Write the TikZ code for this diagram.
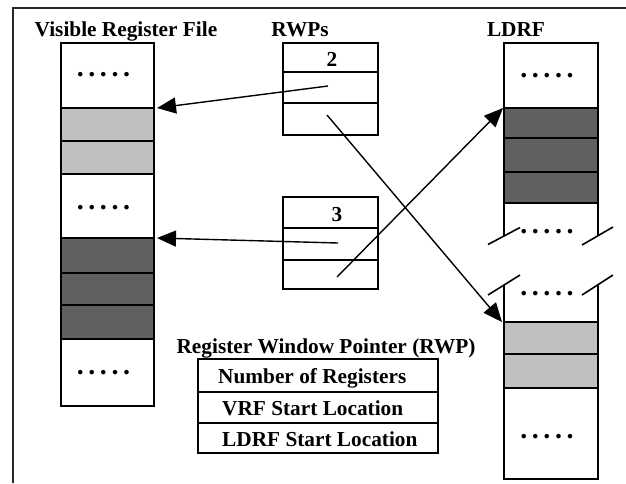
\documentclass[tikz,border=0pt]{standalone}
\usepackage{fontspec}
\setmainfont{Liberation Serif}
\usetikzlibrary{arrows.meta,calc}
\definecolor{lightcell}{RGB}{192,192,192}
\definecolor{darkcell}{RGB}{96,96,96}
\definecolor{framecol}{RGB}{40,40,40}
\newcommand\fivedots{.\kern4.6pt.\kern4.6pt.\kern4.6pt.\kern4.6pt.}
\tikzset{
  cell/.style={draw, line width=2.2pt, rectangle, inner sep=0pt, outer sep=0pt, anchor=north west},
  vcell/.style={cell, minimum width=93pt},
  lcell/.style={cell, minimum width=94pt},
  rcell/.style={cell, minimum width=95pt},
  gcell/.style={cell, minimum width=240pt},
  ghost/.style={rectangle, inner sep=0pt, outer sep=0pt, anchor=north west, minimum width=94pt},
  lbl/.style={font=\fontsize{21.3}{25}\selectfont\bfseries, inner sep=0pt},
  dotsnode/.style={font=\fontsize{28}{30}\selectfont\bfseries, inner sep=0pt},
  arr/.style={line width=1.4pt, -{Triangle[length=19pt,width=16pt]}},
  brk/.style={line width=1.6pt},
  colline/.style={line width=2.2pt},
  frame/.style={line width=2pt, draw=framecol}
}
\begin{document}
\begin{tikzpicture}[x=1pt,y=-1pt]
\useasboundingbox (0,0) rectangle (626,483);
\draw[frame] (13,483) -- (13,8) -- (626,8);

% titles
\node[lbl, anchor=base] (tv) at (126,36) {Visible Register File};
\node[lbl, anchor=base] (tr) at (300,36) {RWPs};
\node[lbl, anchor=base] (tl) at (516,36) {LDRF};

% Visible register file
\node[vcell, minimum height=65pt] (v1) at (61,43) {};
\node[vcell, fill=lightcell, minimum height=33pt] (v2) at (61,108) {};
\node[vcell, fill=lightcell, minimum height=33pt] (v3) at (61,141) {};
\node[vcell, minimum height=64pt] (v4) at (61,174) {};
\node[vcell, fill=darkcell, minimum height=35pt] (v5) at (61,238) {};
\node[vcell, fill=darkcell, minimum height=32pt] (v6) at (61,273) {};
\node[vcell, fill=darkcell, minimum height=34pt] (v7) at (61,305) {};
\node[vcell, minimum height=67pt] (v8) at (61,339) {};
\node[dotsnode] (vd1) at ($(v1.center)+(-4,-1)$) {\fivedots};
\node[dotsnode] (vd2) at ($(v4.center)+(-4,2)$) {\fivedots};
\node[dotsnode] (vd3) at ($(v8.center)+(-4,0)$) {\fivedots};

% RWP boxes
\node[rcell, minimum height=29pt] (b1r1) at (283,43) {};
\node[rcell, minimum height=31pt] (b1r2) at (283,72) {};
\node[rcell, minimum height=32pt] (b1r3) at (283,103) {};
\node[lbl, anchor=base] (n2) at (332,66) {2};
\node[rcell, minimum height=31pt] (b2r1) at (283,197) {};
\node[rcell, minimum height=32pt] (b2r2) at (283,228) {};
\node[rcell, minimum height=29pt] (b2r3) at (283,260) {};
\node[lbl, anchor=base] (n3) at (337,221) {3};

% LDRF
\node[lcell, minimum height=65pt] (l1) at (504,43) {};
\node[lcell, fill=darkcell, line width=2.8pt, minimum height=30pt] (l2) at (504,108) {};
\node[lcell, fill=darkcell, line width=2.8pt, minimum height=34pt] (l3) at (504,138) {};
\node[lcell, fill=darkcell, line width=2.8pt, minimum height=31pt] (l4) at (504,172) {};
\node[ghost, minimum height=33pt] (l5) at (504,203) {};
\node[ghost, minimum height=37pt] (l6) at (504,285) {};
\node[lcell, fill=lightcell, minimum height=32pt] (l7) at (504,322) {};
\node[lcell, fill=lightcell, minimum height=34pt] (l8) at (504,354) {};
\node[lcell, minimum height=91pt] (l9) at (504,388) {};
\draw[colline] (l5.north west) -- (l5.south west);
\draw[colline] (l5.north east) -- (l5.south east);
\draw[colline] (l6.south west) -- (l6.north west);
\draw[colline] (l6.south east) -- (l6.north east);
\draw[brk] ($(l5.south west)+(-16,8.5)$) -- ($(l5.south west)+(16,-8.5)$);
\draw[brk] ($(l5.south east)+(-16,9)$) -- ($(l5.south east)+(15,-9)$);
\draw[brk] ($(l6.north west)+(-16,10)$) -- ($(l6.north west)+(16,-10)$);
\draw[brk] ($(l6.north east)+(-16,10)$) -- ($(l6.north east)+(15,-10)$);
\node[dotsnode] (ld1) at ($(l1.center)+(-4,0)$) {\fivedots};
\node[dotsnode] (ld2) at (547,232) {\fivedots};
\node[dotsnode] (ld3) at (547,294) {\fivedots};
\node[dotsnode] (ld4) at ($(l9.center)+(-4,3)$) {\fivedots};

% arrows
\coordinate (p1) at ($(b1r2.center)+(-2.5,-1.5)$);
\coordinate (p2) at ($(b1r3.center)+(-3.5,-4)$);
\coordinate (p3) at ($(b2r2.center)+(7.5,-1)$);
\coordinate (p4) at ($(b2r3.center)+(6.5,2.5)$);
\draw[arr] (p1) -- ($(v2.north east)+(3,0)$);
\draw[arr] (p2) -- ($(l7.north west)+(-2,0)$);
\draw[arr] (p3) -- ($(v5.north east)+(3,0)$);
\draw[arr] (p4) -- ($(l2.north west)+(-1,0)$);

% legend
\node[lbl, anchor=base] (lgt) at (326,353) {Register Window Pointer (RWP)};
\node[gcell, line width=2.6pt, minimum height=33pt] (lg1) at (198,359) {};
\node[gcell, line width=2.6pt, minimum height=31pt] (lg2) at (198,392) {};
\node[gcell, line width=2.6pt, minimum height=30pt] (lg3) at (198,423) {};
\node[lbl, anchor=base west] (lt1) at (218,383) {Number of Registers};
\node[lbl, anchor=base west] (lt2) at (222,415) {VRF Start Location};
\node[lbl, anchor=base west] (lt3) at (222,446) {LDRF Start Location};
\end{tikzpicture}
\end{document}
